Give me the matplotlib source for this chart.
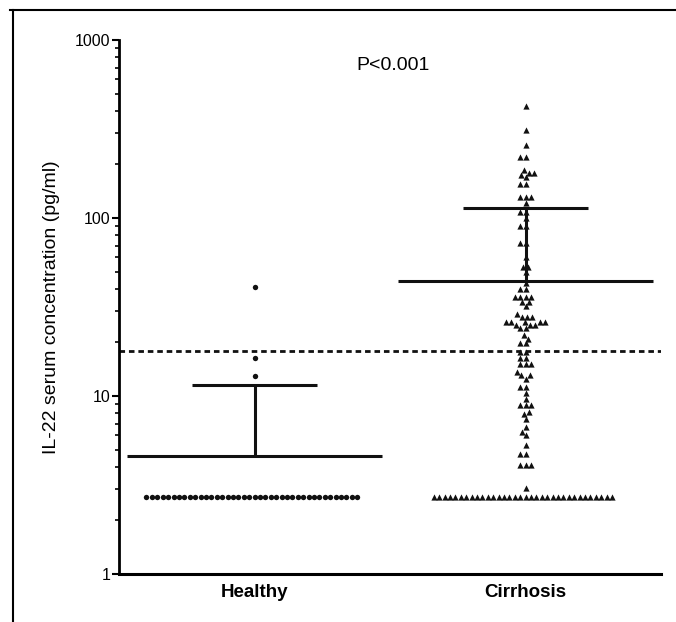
"""IL-22 serum concentration, healthy vs cirrhosis (scatter with mean and SD)."""

from matplotlib import pyplot as plt
from matplotlib.lines import Line2D
import numpy as np

plt.rcParams["font.family"] = ["Liberation Sans", "DejaVu Sans"]

groups = ["Healthy", "Cirrhosis"]
markers = ["o", "^"]

healthy = [41, 16.3, 12.9] + [2.7] * 40
cirrhosis = (
    [426, 312, 257, 220, 220, 186, 180, 180, 175, 170, 155, 155,
     131, 131, 131, 121, 108, 108, 100, 90, 90, 72, 72, 60, 53, 53,
     50, 43, 40, 40, 36, 36, 36, 36, 33.7, 33.7, 32, 29,
     27.8, 27.8, 27.8, 26, 26, 26, 26, 26, 25, 25, 25, 24, 24,
     22, 21, 19.8, 19.8, 17.6, 17.6, 16.3, 16.3, 15.1, 15.1, 15.1,
     13.6, 13.1, 13.1, 12.5, 11.2, 11.2, 10.4, 9.6,
     8.9, 8.9, 8.9, 8.1, 7.9, 7.4, 6.7, 6.3, 6.0, 5.3,
     4.7, 4.7, 4.1, 4.1, 4.1, 3.05]
    + [2.7] * 34
)
values = [healthy, cirrhosis]

# mean and mean + SD, as drawn in the figure
means = [4.6, 44]
mean_plus_sd = [11.5, 114]
cutoff = 18
p_label = "P<0.001"


def swarm_offsets(y_px, d):
    """Horizontal pixel offsets so that no two points are closer than d."""
    order = np.argsort(y_px, kind="stable")
    px_list, py_list = [], []
    out = np.zeros(len(y_px))
    for i in order:
        y = y_px[i]
        cands = [0.0]
        for px, py in zip(px_list, py_list):
            dy = abs(y - py)
            if dy < d:
                dx = np.sqrt(d * d - dy * dy)
                cands += [px - dx, px + dx]
        cands.sort(key=abs)
        chosen = cands[-1]
        for c in cands:
            if all((c - px) ** 2 + (y - py) ** 2 >= d * d - 1e-6
                   for px, py in zip(px_list, py_list)):
                chosen = c
                break
        px_list.append(chosen)
        py_list.append(y)
        out[i] = chosen
    return out


fig = plt.figure(figsize=(6.76, 6.22), dpi=100)
ax = fig.add_axes([119 / 676, 1 - 574 / 622, 542 / 676, 534 / 622])

ax.set_yscale("log")
ax.set_xlim(-0.5, 1.5)
ax.set_ylim(1, 1000)

# pixels per x unit, for the swarm layout
x_scale = ax.transData.transform([[1, 1]])[0, 0] - ax.transData.transform([[0, 1]])[0, 0]

for i, vals in enumerate(values):
    vals = np.asarray(vals, dtype=float)
    pts = ax.transData.transform(np.column_stack([np.full(len(vals), i), vals]))
    offs = swarm_offsets(pts[:, 1], 5.4)
    ax.scatter(i + offs / x_scale, vals, marker=markers[i], s=15 if i == 0 else 20,
               color="#111111", linewidths=0, zorder=3)

    # mean line and SD bar
    ax.hlines(means[i], i - 0.47, i + 0.47, color="#111111", lw=2.2, zorder=4)
    ax.vlines(i, means[i], mean_plus_sd[i], color="#111111", lw=2.2, zorder=4)
    ax.hlines(mean_plus_sd[i], i - 0.23, i + 0.23, color="#111111", lw=2.2, zorder=4)

ax.axhline(cutoff, color="#111111", ls=(0, (2, 1.4)), lw=2, zorder=2)

ax.text(0.51, 720, p_label, ha="center", va="center", fontsize=14)

ax.set_xticks(range(len(groups)))
ax.set_xticklabels(groups, fontsize=13.5, fontweight="bold")
ax.tick_params(axis="x", length=0, pad=7)

ax.set_yticks([1, 10, 100, 1000])
ax.set_yticklabels(["1", "10", "100", "1000"], fontsize=11.5)
ax.tick_params(axis="y", which="major", direction="out", length=5, width=1.5, pad=1)
ax.tick_params(axis="y", which="minor", direction="out", length=3, width=1.2)
ax.set_ylabel("IL-22 serum concentration (pg/ml)", fontsize=14)
ax.yaxis.set_label_coords(-0.109, 0.5)

ax.spines["top"].set_visible(False)
ax.spines["right"].set_visible(False)
ax.spines["left"].set_linewidth(2)
ax.spines["bottom"].set_linewidth(2.2)

# border of the scanned page
fig.add_artist(Line2D([10 / 676, 1], [1 - 10 / 622] * 2, transform=fig.transFigure,
                      color="black", lw=1.5))
fig.add_artist(Line2D([13 / 676] * 2, [0, 1 - 10 / 622], transform=fig.transFigure,
                      color="black", lw=1.5))

fig.savefig("out.png", dpi=100, facecolor="white")
